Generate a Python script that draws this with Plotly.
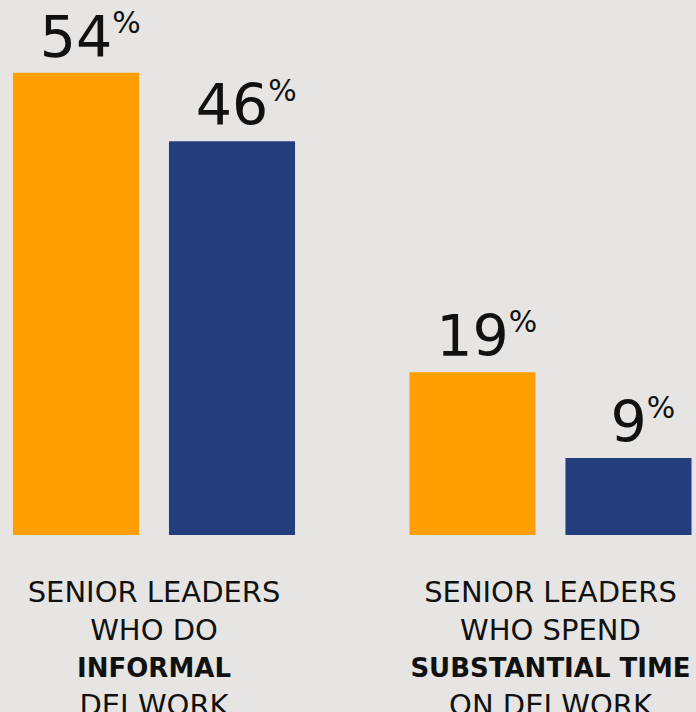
import plotly.graph_objects as go

# Share of senior leaders, two groups of respondents
categories = [
    "SENIOR LEADERS<br>WHO DO<br><b><span style='font-size:26px'>INFORMAL</span></b><br>DEI WORK",
    "SENIOR LEADERS<br>WHO SPEND<br><b><span style='font-size:26px'>SUBSTANTIAL TIME</span></b><br>ON DEI WORK",
]
series_a = [54, 19]   # orange
series_b = [46, 9]    # navy

ORANGE = "#FF9E00"
NAVY = "#243D7C"
BG = "#E6E5E3"
NUM_FONT = "DejaVu Sans"

# Value label: number centred on the bar, with a raised percent sign.
# A transparent copy of the sign on the left keeps the digits centred.
pct = "<sup><span style='font-size:30px'>%</span></sup>"
label_tpl = "<span style='color:rgba(0,0,0,0)'>" + pct + "</span>%{y}" + pct


def bar(values, color):
    return go.Bar(
        x=categories,
        y=values,
        marker=dict(color=color, line=dict(width=0)),
        texttemplate=label_tpl,
        textposition="outside",
        constraintext="none",
        cliponaxis=False,
        textfont=dict(family=NUM_FONT, size=57, color="#111111"),
        hoverinfo="skip",
    )


fig = go.Figure([bar(series_a, ORANGE), bar(series_b, NAVY)])

fig.update_layout(
    template="none",
    width=696,
    height=712,
    margin=dict(l=0, r=0, t=0, b=177, pad=0),
    paper_bgcolor=BG,
    plot_bgcolor=BG,
    barmode="group",
    bargap=0.213,
    bargroupgap=0.192,
    showlegend=False,
    font=dict(family="DejaVu Sans", size=29, color="#111111"),
)
fig.update_xaxes(
    type="category",
    range=[-0.3884, 1.3670],
    showgrid=False,
    zeroline=False,
    showline=False,
    ticks="",
    automargin=False,
    tickfont=dict(family="DejaVu Sans", size=29, color="#111111"),
    ticklabelstandoff=37,
)
fig.update_yaxes(
    range=[0, 62.5],
    visible=False,
    showgrid=False,
    zeroline=False,
    automargin=False,
)

fig.write_html("out.html")
